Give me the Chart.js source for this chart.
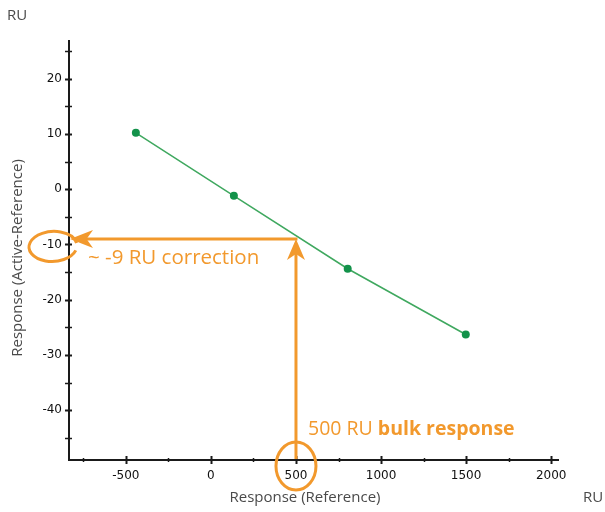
<!DOCTYPE html>
<html>
<head>
<meta charset="utf-8">
<script src="https://cdn.jsdelivr.net/npm/chart.js@4/dist/chart.umd.min.js"></script>
<style>
  html, body { margin: 0; padding: 0; background: #ffffff; }
  #wrap { width: 605px; height: 512px; }
</style>
</head>
<body>
<div id="wrap"><canvas id="c" width="605" height="512"></canvas></div>
<script>
// Measured responses: reference channel vs. active-minus-reference
const refResponse = [-441, 135, 804, 1498];
const diffResponse = [10.2, -1.2, -14.4, -26.3];

// Axis tick labels
const xTickValues = [-500, 0, 500, 1000, 1500, 2000];
const yTickValues = [-40, -30, -20, -10, 0, 10, 20];

// Read-off used in the annotation
const bulkResponse = 500;
const correction = -9;

const ORANGE = '#f2992d';
const GREEN_LINE = '#3fa85f';
const GREEN_PT = '#13924a';
const AXIS = '#1a1a1a';

function drawArrowHead(ctx, tipX, tipY, dir, len, half) {
  ctx.beginPath();
  if (dir === 'up') {
    ctx.moveTo(tipX, tipY);
    ctx.lineTo(tipX - half, tipY + len);
    ctx.lineTo(tipX, tipY + len * 0.72);
    ctx.lineTo(tipX + half, tipY + len);
  } else {
    ctx.moveTo(tipX, tipY);
    ctx.lineTo(tipX + len, tipY - half);
    ctx.lineTo(tipX + len * 0.72, tipY);
    ctx.lineTo(tipX + len, tipY + half);
  }
  ctx.closePath();
  ctx.fill();
}

// Tick marks that straddle the axis lines
const crossTicks = {
  id: 'crossTicks',
  beforeDatasetsDraw(chart) {
    const { ctx, scales: { x, y }, chartArea: a } = chart;
    ctx.save();
    ctx.strokeStyle = AXIS;
    for (let v = Math.ceil(y.min / 5) * 5; v <= y.max; v += 5) {
      const py = Math.round(y.getPixelForValue(v)) + 0.5;
      const major = v % 10 === 0;
      ctx.lineWidth = major ? 2 : 1.5;
      ctx.beginPath();
      ctx.moveTo(a.left - 4, py);
      ctx.lineTo(a.left + 3, py);
      ctx.stroke();
    }
    for (let v = Math.ceil(x.min / 250) * 250; v <= x.max; v += 250) {
      const px = Math.round(x.getPixelForValue(v)) + 0.5;
      const major = v % 500 === 0;
      ctx.lineWidth = major ? 2 : 1.5;
      ctx.beginPath();
      ctx.moveTo(px, a.bottom - (major ? 4 : 2));
      ctx.lineTo(px, a.bottom + (major ? 4 : 2));
      ctx.stroke();
    }
    ctx.restore();
  }
};

// Axis titles, units and the bulk-correction read-off
const annotations = {
  id: 'annotations',
  afterDraw(chart) {
    const { ctx, scales: { x, y }, chartArea: a } = chart;
    ctx.save();

    ctx.fillStyle = '#4a4a4a';
    ctx.font = '15px "Open Sans"';
    ctx.textBaseline = 'middle';
    ctx.textAlign = 'left';
    ctx.fillText('RU', 7, 16);
    ctx.fillText('RU', 583, 498);
    ctx.textAlign = 'center';
    ctx.fillText('Response (Reference)', 305, 498);
    ctx.save();
    ctx.translate(18, 258);
    ctx.rotate(-Math.PI / 2);
    ctx.fillText('Response (Active-Reference)', 0, 0);
    ctx.restore();

    const px = x.getPixelForValue(bulkResponse);
    const py = y.getPixelForValue(correction);
    ctx.strokeStyle = ORANGE;
    ctx.fillStyle = ORANGE;
    ctx.lineWidth = 3;

    // vertical arrow from the x axis up to the fitted line
    ctx.beginPath();
    ctx.moveTo(px, a.bottom - 1);
    ctx.lineTo(px, py + 14);
    ctx.stroke();
    drawArrowHead(ctx, px, py, 'up', 21, 9);

    // horizontal arrow across to the y axis
    const tipX = a.left + 1;
    ctx.beginPath();
    ctx.moveTo(px + 1.5, py);
    ctx.lineTo(tipX + 16, py);
    ctx.stroke();
    drawArrowHead(ctx, tipX, py, 'left', 23, 9);

    // rings around the read-off tick labels
    ctx.lineWidth = 3;
    ctx.beginPath();
    ctx.ellipse(53, y.getPixelForValue(-10) + 2, 24, 15, -0.05, 0.35, Math.PI * 2 - 0.15);
    ctx.stroke();
    ctx.beginPath();
    ctx.ellipse(px, 466, 20, 24, 0, 0, Math.PI * 2);
    ctx.stroke();

    // labels
    ctx.textAlign = 'left';
    ctx.textBaseline = 'middle';
    ctx.font = '20.5px "Open Sans"';
    ctx.fillText('~ -9 RU correction', 88, 258);

    ctx.font = '19.5px "Open Sans"';
    const part1 = '500 RU ';
    ctx.fillText(part1, 308, 429);
    const w1 = ctx.measureText(part1).width;
    ctx.font = 'bold 19.5px "Open Sans"';
    ctx.fillText('bulk response', 308 + w1, 429);

    ctx.restore();
  }
};

const plainLabel = v => String(v);

new Chart(document.getElementById('c'), {
  type: 'scatter',
  data: {
    datasets: [{
      data: refResponse.map((v, i) => ({ x: v, y: diffResponse[i] })),
      showLine: true,
      borderColor: GREEN_LINE,
      borderWidth: 1.5,
      pointRadius: 4,
      pointBackgroundColor: GREEN_PT,
      pointBorderColor: GREEN_PT,
      pointBorderWidth: 0
    }]
  },
  options: {
    responsive: false,
    animation: false,
    events: [],
    layout: { padding: { top: 41, right: 47, left: 0, bottom: 0 } },
    plugins: { legend: { display: false }, tooltip: { enabled: false } },
    scales: {
      x: {
        type: 'linear',
        min: -834,
        max: 2040,
        afterBuildTicks: s => { s.ticks = xTickValues.map(v => ({ value: v })); },
        afterFit: s => { s.height = 52; },
        grid: { drawOnChartArea: false, drawTicks: false },
        border: { color: AXIS, width: 2 },
        ticks: {
          padding: 9,
          color: '#111',
          font: { family: 'DejaVu Sans', size: 12 },
          maxRotation: 0,
          callback: plainLabel
        }
      },
      y: {
        type: 'linear',
        min: -49,
        max: 26.8,
        afterBuildTicks: s => { s.ticks = yTickValues.map(v => ({ value: v })); },
        afterFit: s => { s.width = 69; },
        grid: { drawOnChartArea: false, drawTicks: false },
        border: { color: AXIS, width: 2 },
        ticks: {
          padding: 7,
          color: '#111',
          font: { family: 'DejaVu Sans', size: 12 },
          callback: plainLabel
        }
      }
    }
  },
  plugins: [crossTicks, annotations]
});
</script>
</body>
</html>
